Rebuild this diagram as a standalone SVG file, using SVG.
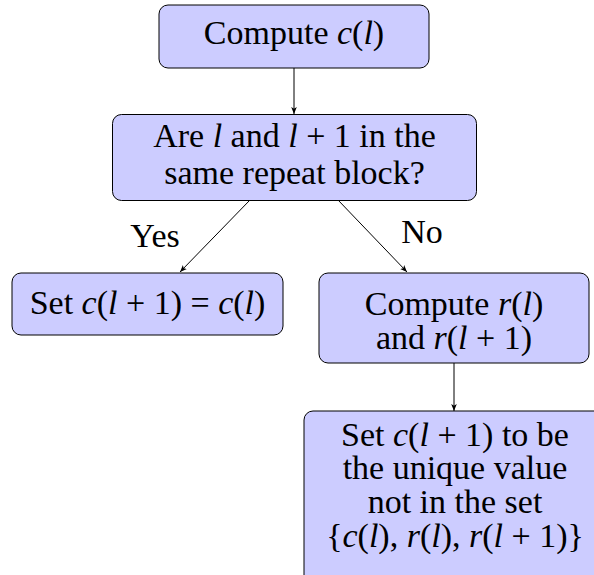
<svg xmlns="http://www.w3.org/2000/svg" width="594" height="575" viewBox="0 0 594 575">
<style>
.box{fill:#ccccff;stroke:#000;stroke-width:1}
.t{font-family:"Liberation Serif","DejaVu Serif",serif;font-size:34px;fill:#000;text-anchor:middle}
.i{font-style:italic}
.edge{stroke:#000;stroke-width:1;fill:none;marker-end:url(#ah)}
</style>
<defs>
<marker id="ah" viewBox="0 0 10 10" refX="10" refY="5" markerWidth="7" markerHeight="7" markerUnits="userSpaceOnUse" orient="auto">
<path d="M0,1 L10,5 L0,9 L2.5,5 Z" fill="#000"/>
</marker>
</defs>
<rect width="594" height="575" fill="#fff"/>
<g id="connectors">
<line class="edge" x1="294" y1="68" x2="294" y2="114"/>
<line class="edge" x1="250" y1="200" x2="180" y2="272"/>
<line class="edge" x1="338" y1="200" x2="407" y2="272"/>
<line class="edge" x1="454" y1="363" x2="454" y2="411"/>
<text class="t" x="155" y="247">Yes</text>
<text class="t" x="422" y="243">No</text>
</g>
<g id="n1">
<rect class="box" x="159" y="5" width="270" height="63" rx="9"/>
<text class="t" x="294" y="44">Compute <tspan class="i">c</tspan>(<tspan class="i">l</tspan>)</text>
</g>
<g id="n2">
<rect class="box" x="112.5" y="114.5" width="364" height="86" rx="9"/>
<text class="t" x="294.5" y="147">Are <tspan class="i">l</tspan> and <tspan class="i">l</tspan> + 1 in the</text>
<text class="t" x="294.5" y="184">same repeat block?</text>
</g>
<g id="n3">
<rect class="box" x="12" y="273" width="271" height="62" rx="9"/>
<text class="t" x="147.5" y="314">Set <tspan class="i">c</tspan>(<tspan class="i">l</tspan> + 1) = <tspan class="i">c</tspan>(<tspan class="i">l</tspan>)</text>
</g>
<g id="n4">
<rect class="box" x="319" y="273" width="270" height="90" rx="9"/>
<text class="t" x="454" y="315">Compute <tspan class="i">r</tspan>(<tspan class="i">l</tspan>)</text>
<text class="t" x="454" y="349">and <tspan class="i">r</tspan>(<tspan class="i">l</tspan> + 1)</text>
</g>
<g id="n5">
<rect class="box" x="304" y="411" width="300" height="180" rx="9"/>
<text class="t" x="455" y="446">Set <tspan class="i">c</tspan>(<tspan class="i">l</tspan> + 1) to be</text>
<text class="t" x="455" y="479">the unique value</text>
<text class="t" x="455" y="513">not in the set</text>
<text class="t" x="455" y="547">{<tspan class="i">c</tspan>(<tspan class="i">l</tspan>), <tspan class="i">r</tspan>(<tspan class="i">l</tspan>), <tspan class="i">r</tspan>(<tspan class="i">l</tspan> + 1)}</text>
</g>
</svg>
